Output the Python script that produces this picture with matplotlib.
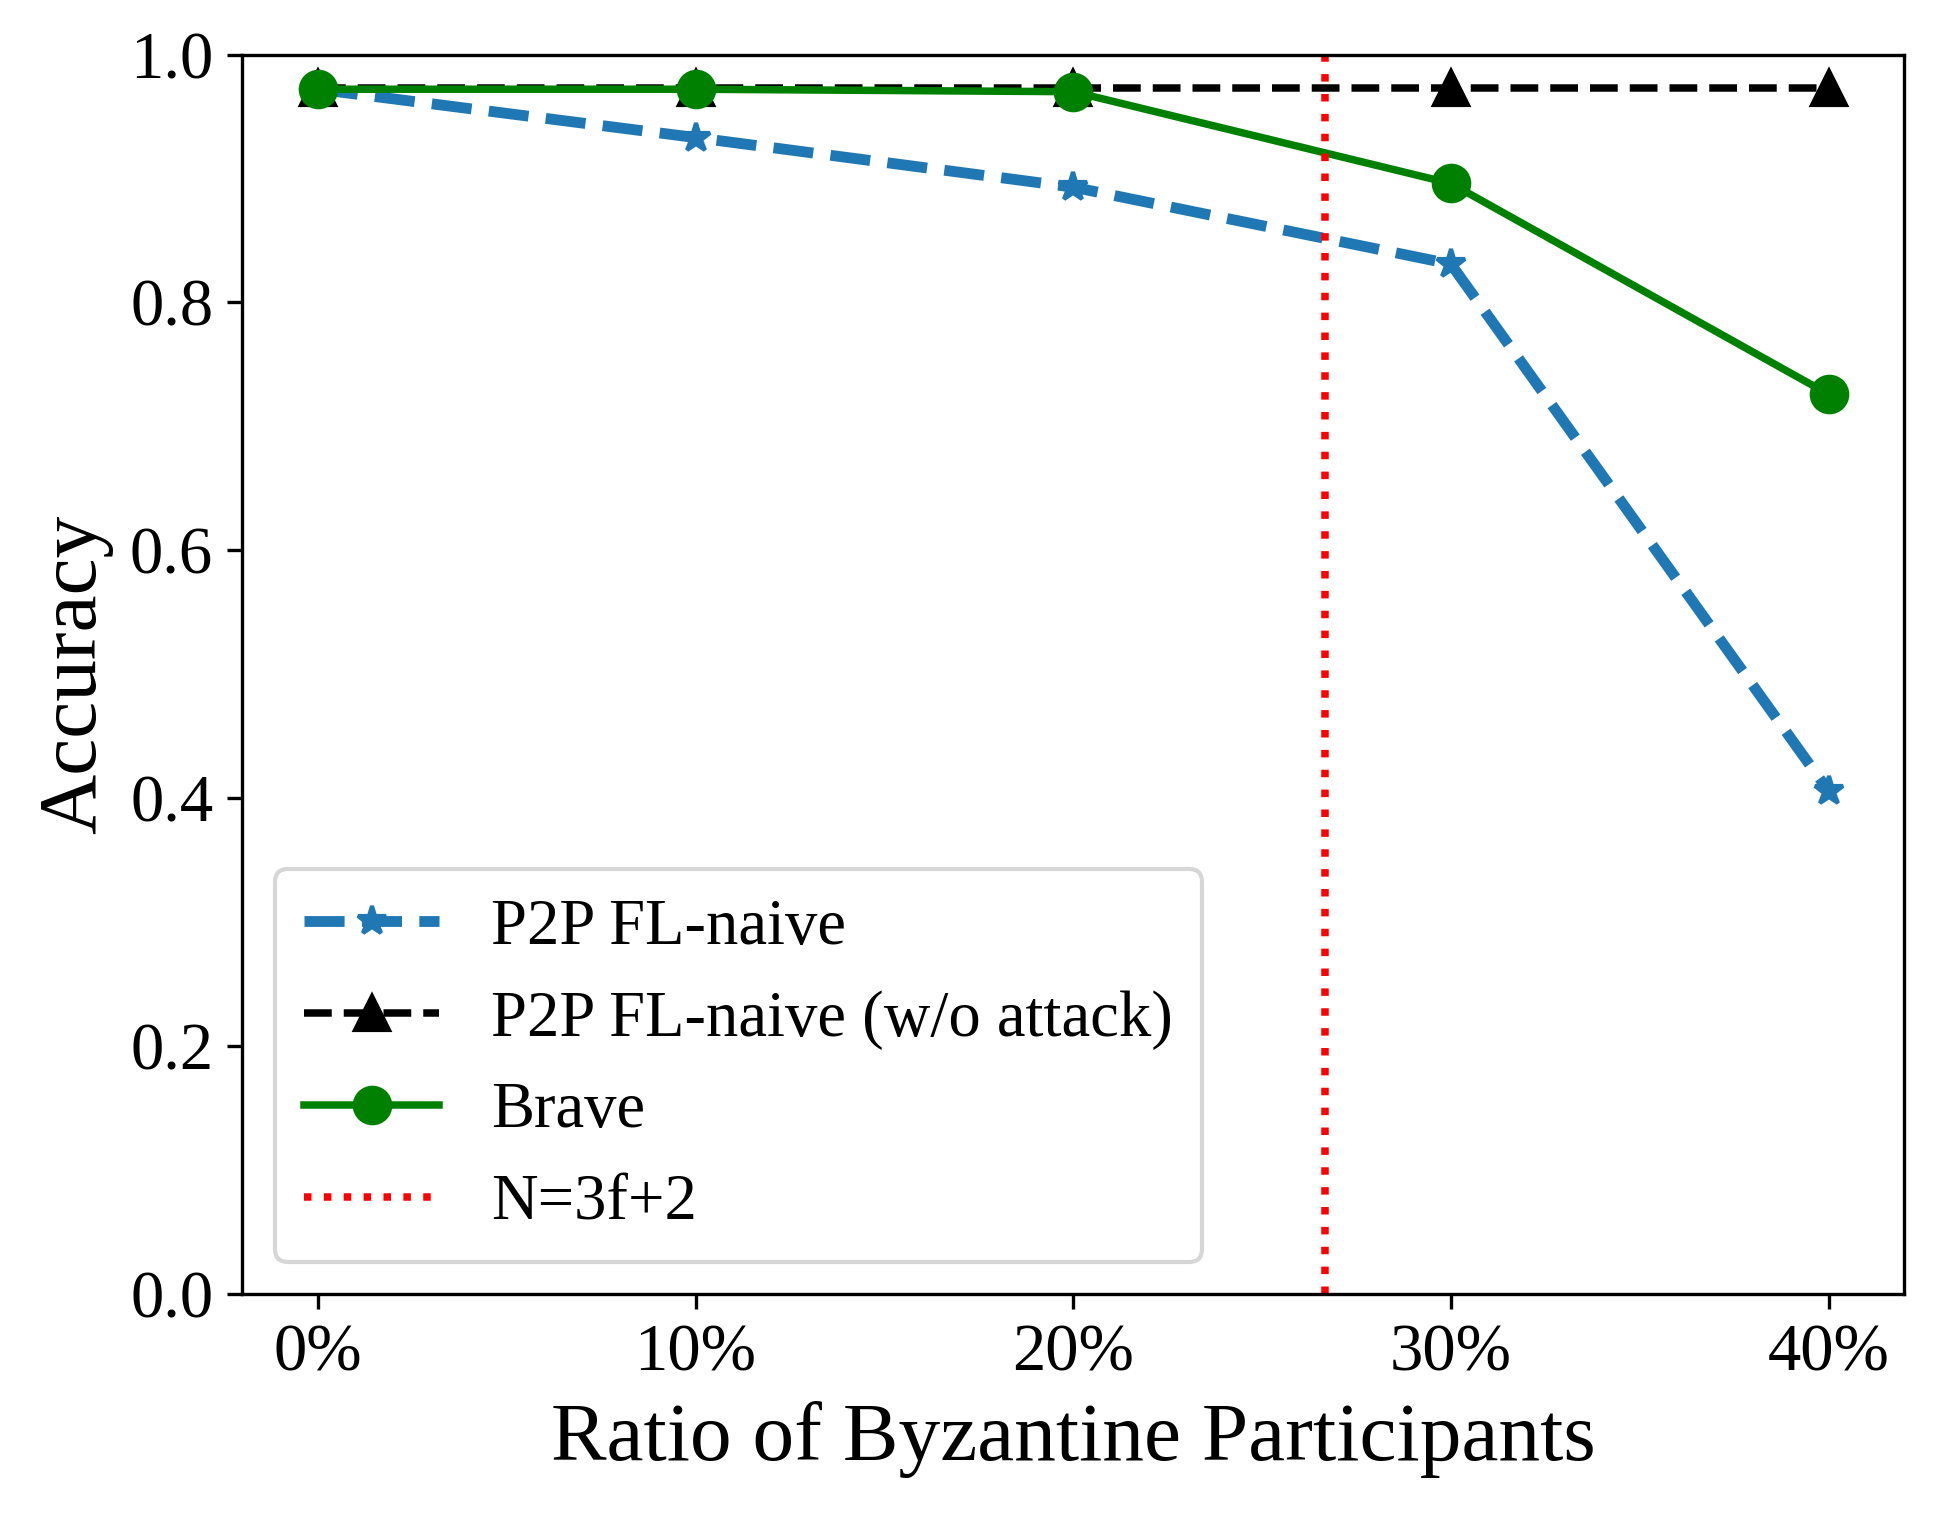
import numpy as np
import matplotlib
matplotlib.use('Agg')
import matplotlib.pyplot as plt

# accuracy vs ratio of byzantine participants

plt.rcParams['font.family'] = ['Liberation Serif', 'DejaVu Serif']
plt.rcParams['mathtext.fontset'] = 'stix'

ratio = [0, 10, 20, 30, 40]
ratio_labels = ['0%', '10%', '20%', '30%', '40%']
naive = [0.972, 0.933, 0.893, 0.831, 0.406]
naive_no_attack = [0.973, 0.973, 0.973, 0.973, 0.973]
brave = [0.972, 0.972, 0.970, 0.896, 0.726]
bound = 80 / 3  # N=3f+2

fig, ax = plt.subplots(figsize=(1939 / 300, 1514 / 300), dpi=300)

ax.plot(ratio, naive, '--', marker='*', color='tab:blue', lw=2.6, ms=7, label='P2P FL-naive')
ax.plot(ratio, naive_no_attack, '--', marker='^', color='black', lw=1.8, ms=8, label='P2P FL-naive (w/o attack)')
ax.plot(ratio, brave, '-', marker='o', color='green', lw=1.8, ms=8.5, label='Brave')
ax.axvline(bound, color='red', ls=':', lw=1.8, label='N=3f+2')

ax.set_ylim(0, 1.0)
ax.set_xticks(ratio)
ax.set_xticklabels(ratio_labels, fontsize=16)
ax.tick_params(axis='y', labelsize=16)
ax.set_xlabel('Ratio of Byzantine Participants', fontsize=20)
ax.set_ylabel('Accuracy', fontsize=20)
ax.legend(loc='lower left', fontsize=15.5, borderpad=0.45, handlelength=2.1,
          handletextpad=0.8, labelspacing=0.5)

plt.subplots_adjust(left=0.125, right=0.982, top=0.964, bottom=0.145)
plt.savefig('out.png', dpi=300)
